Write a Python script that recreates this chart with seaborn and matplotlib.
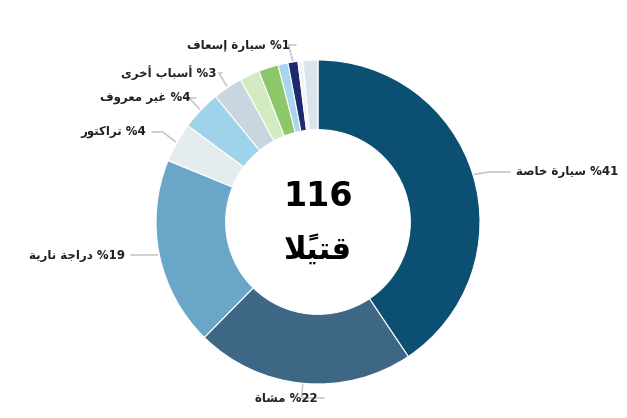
import numpy as np
import matplotlib
matplotlib.use("Agg")
import matplotlib.pyplot as plt
import seaborn as sns

# slice data, clockwise from 12 o'clock
categories = ["سيارة خاصة", "مشاة", "دراجة نارية", "تراكتور", "غير معروف", "أسباب أخرى",
              "أخرى 1", "أخرى 2", "أخرى 3", "سيارة إسعاف", "أخرى 4", "أخرى 5"]
values = [41, 22, 19, 4, 4, 3, 2, 2, 1, 1, 0.5, 1.5]
pct_labels = ["41", "22", "19", "4", "4", "3", None, None, None, "1", None, None]
colors = ["#0b4f72", "#3e6786", "#6aa6c8", "#e4ecf0", "#9fd3ec", "#c8d6e0",
          "#d3ebc0", "#8cc86a", "#a6d6ee", "#1e2a6e", "#f2f5f7", "#d9e4ec"]
total_text = "116"
unit_text = "قتيلاً"

# minimal Arabic shaping (isolated, final, initial, medial)
FORMS = {
    "ا": (0xFE8D, 0xFE8E), "أ": (0xFE83, 0xFE84), "إ": (0xFE87, 0xFE88),
    "ة": (0xFE93, 0xFE94), "د": (0xFEA9, 0xFEAA), "ر": (0xFEAD, 0xFEAE),
    "و": (0xFEED, 0xFEEE), "ى": (0xFEEF, 0xFEF0),
    "ب": (0xFE8F, 0xFE90, 0xFE91, 0xFE92), "ت": (0xFE95, 0xFE96, 0xFE97, 0xFE98),
    "ج": (0xFE9D, 0xFE9E, 0xFE9F, 0xFEA0), "خ": (0xFEA5, 0xFEA6, 0xFEA7, 0xFEA8),
    "س": (0xFEB1, 0xFEB2, 0xFEB3, 0xFEB4), "ش": (0xFEB5, 0xFEB6, 0xFEB7, 0xFEB8),
    "ص": (0xFEB9, 0xFEBA, 0xFEBB, 0xFEBC), "ع": (0xFEC9, 0xFECA, 0xFECB, 0xFECC),
    "غ": (0xFECD, 0xFECE, 0xFECF, 0xFED0), "ف": (0xFED1, 0xFED2, 0xFED3, 0xFED4),
    "ق": (0xFED5, 0xFED6, 0xFED7, 0xFED8), "ك": (0xFED9, 0xFEDA, 0xFEDB, 0xFEDC),
    "ل": (0xFEDD, 0xFEDE, 0xFEDF, 0xFEE0), "م": (0xFEE1, 0xFEE2, 0xFEE3, 0xFEE4),
    "ن": (0xFEE5, 0xFEE6, 0xFEE7, 0xFEE8), "ي": (0xFEF1, 0xFEF2, 0xFEF3, 0xFEF4),
}
LAM_ALEF = {"ا": (0xFEFB, 0xFEFC), "أ": (0xFEF7, 0xFEF8), "إ": (0xFEF9, 0xFEFA)}
MARKS = {"\u064B"}


def ar(text):
    # group letters with their marks, merge lam-alef
    units = []
    for ch in text:
        if ch in MARKS and units:
            units[-1][1] += ch
        elif ch in LAM_ALEF and units and units[-1][0] == "ل" and not units[-1][1]:
            units[-1][0] = "ل" + ch
        else:
            units.append([ch, ""])

    def dual(u):
        return u in FORMS and len(FORMS[u]) == 4

    def joins(u):
        return u in FORMS or u.startswith("ل") and len(u) == 2

    out = []
    for i, (u, m) in enumerate(units):
        prev = units[i - 1][0] if i > 0 else None
        nxt = units[i + 1][0] if i + 1 < len(units) else None
        jp = prev is not None and dual(prev) and joins(u)
        jn = nxt is not None and dual(u) and joins(nxt)
        if len(u) == 2:
            f = LAM_ALEF[u[1]]
            g = chr(f[1] if jp else f[0])
        elif u in FORMS:
            f = FORMS[u]
            if len(f) == 2:
                g = chr(f[1] if jp else f[0])
            else:
                g = chr(f[3] if jp and jn else f[1] if jp else f[2] if jn else f[0])
        else:
            g = u
        out.append(g + m)
    return "".join(reversed(out))


sns.set_theme(style="white")
plt.rcParams["font.family"] = ["DejaVu Sans"]

W, H = 627, 418
fig = plt.figure(figsize=(6.27, 4.18), dpi=100)
ax = fig.add_axes([0, 0, 1, 1])

cx, cy, R = 318, H - 222, 162
wedges, _ = ax.pie(values, colors=colors, startangle=90, counterclock=False,
                   radius=R, center=(cx, cy), frame=True,
                   wedgeprops=dict(width=R * 0.43, edgecolor="white", linewidth=0.8))
ax.set_xlim(0, W)
ax.set_ylim(0, H)
ax.set_aspect("equal")
ax.axis("off")

ax.text(cx, cy + 25, total_text, ha="center", va="center", fontsize=24, fontweight="bold", color="black")
ax.text(cx, cy - 27, ar(unit_text), ha="center", va="center", fontsize=22, fontweight="bold", color="black")

# label anchor (text edge x, y) in pixels, side of the text
label_pos = {0: (516, 172, "left"), 1: (318, 398, "right"), 2: (125, 255, "right"),
             3: (146, 132, "right"), 4: (190, 98, "right"), 5: (216, 73, "right"),
             9: (290, 45, "right")}
for i, (x, y, side) in label_pos.items():
    w = wedges[i]
    ang = np.deg2rad((w.theta1 + w.theta2) / 2)
    p0 = (cx + 1.01 * R * np.cos(ang), cy + 1.01 * R * np.sin(ang))
    ty = H - y
    if i == 9:
        elbow = (p0[0] - 4, ty)
    else:
        elbow = (cx + 1.1 * R * np.cos(ang), ty)
    tx = x + (-6 if side == "left" else 6)
    ax.plot([p0[0], elbow[0], tx], [p0[1], elbow[1], ty], color="#c8c8c8", lw=1.2)
    txt = ar(categories[i]) + " %" + pct_labels[i]
    ax.text(x, ty, txt, ha=side, va="center", fontsize=8.5, fontweight="bold", color="#222222")

fig.savefig("out.png", dpi=100, facecolor="white")
